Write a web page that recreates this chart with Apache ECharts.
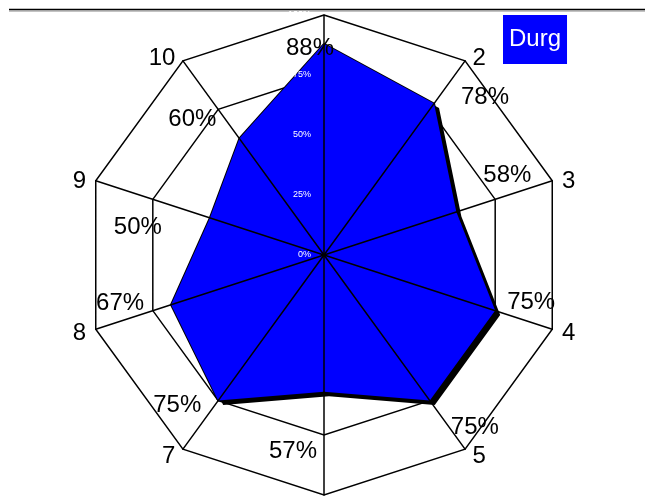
<!DOCTYPE html>
<html style="height: 100%">

<head>
    <meta charset="utf-8">
</head>

<body style="height: 100%; margin: 0">
    <div id="container" style="width: 645px; height: 497px"></div>
    <script src="https://cdn.jsdelivr.net/npm/echarts@6/dist/echarts.min.js"></script>
    <script type="text/javascript">
        var indicators = ['1', '2', '3', '4', '5', '6', '7', '8', '9', '10'];
        var durgValues = [88, 78, 58, 75, 75, 57, 75, 67, 50, 60];
        var seriesName = 'Durg';
        var axisMax = 100;

        // label nudges (px) for each vertex value label, same order as indicators
        var labelOffsets = [[-14, 2], [51, -9], [51, -40], [36, -11], [45, 24],
            [-31, 57], [-41, 2], [-51, -4], [-72, 6], [-47, -22]];

        // echarts lays radar axes out counter-clockwise, the picture goes clockwise
        var ccw = function (arr) {
            return [arr[0]].concat(arr.slice(1).reverse());
        };

        var font = 'Liberation Sans, Arial, sans-serif';
        var cx = 324, cy = 255;
        var dom = document.getElementById('container');
        var myChart = echarts.init(dom);

        var indicatorList = ccw(indicators).map(function (n, i) {
            var item = { name: n, min: 0, max: axisMax };
            if (i === 0) {
                item.axisLabel = {
                    show: true,
                    color: '#fff',
                    fontSize: 9,
                    fontFamily: font,
                    margin: 13,
                    formatter: '{value}%'
                };
            }
            return item;
        });

        var radarBase = {
            center: [cx, cy],
            radius: 240,
            shape: 'polygon',
            splitNumber: 4,
            indicator: indicatorList
        };

        // which indicator a vertex label belongs to, from its position round the centre
        var vertexIndex = function (rect) {
            var x = rect.x + rect.width / 2 - cx;
            var y = cy - (rect.y + rect.height / 2);
            var a = Math.atan2(y, x) * 180 / Math.PI;   // 90 = top
            var clockwise = (90 - a + 720) % 360;
            return Math.round(clockwise / (360 / indicators.length)) % indicators.length;
        };

        myChart.setOption({
            animation: false,
            title: {
                text: seriesName,
                left: 503,
                top: 15,
                padding: [12, 6, 13, 6],
                backgroundColor: '#0000ff',
                textStyle: { color: '#fff', fontSize: 24, fontWeight: 'normal', fontFamily: font }
            },
            graphic: [
                { type: 'line', shape: { x1: 9, y1: 9.5, x2: 645, y2: 9.5 }, style: { stroke: '#000', lineWidth: 1.5 } },
                { type: 'line', shape: { x1: 9, y1: 11, x2: 645, y2: 11 }, style: { stroke: '#888', lineWidth: 1 } }
            ],
            radar: [
                Object.assign({}, radarBase, {
                    z: 0,
                    axisName: {
                        color: '#000',
                        fontSize: 24,
                        fontFamily: font,
                        formatter: function (name) {
                            return name === '1' ? '' : '{n|' + name + '}';
                        },
                        rich: {
                            n: {
                                color: '#000',
                                fontSize: 24,
                                fontFamily: font,
                                padding: [5, 4, 0, 4]
                            }
                        }
                    },
                    nameGap: 6,
                    axisLine: { show: false },
                    axisTick: { show: false },
                    axisLabel: { show: false },
                    splitArea: { show: false },
                    splitLine: { lineStyle: { color: '#000', width: 1.5 } }
                }),
                Object.assign({}, radarBase, {
                    z: 3,
                    axisName: { show: false },
                    axisLine: { lineStyle: { color: '#000', width: 1.5 } },
                    axisTick: { show: false },
                    axisLabel: { show: false },
                    splitArea: { show: false },
                    splitLine: { show: false }
                })
            ],
            series: [{
                name: seriesName,
                type: 'radar',
                radarIndex: 0,
                symbol: 'circle',
                symbolSize: 1,
                itemStyle: { color: '#000' },
                lineStyle: { color: '#000', width: 2 },
                areaStyle: {
                    color: '#0000ff',
                    opacity: 1,
                    shadowColor: '#000',
                    shadowBlur: 0,
                    shadowOffsetX: 5,
                    shadowOffsetY: 4.5
                },
                label: {
                    show: true,
                    position: 'inside',
                    align: 'center',
                    verticalAlign: 'middle',
                    color: '#000',
                    fontSize: 24,
                    fontFamily: font,
                    formatter: function (p) {
                        return p.value + '%';
                    }
                },
                labelLayout: function (params) {
                    var off = labelOffsets[vertexIndex(params.rect)];
                    return { dx: off[0], dy: off[1] + 3 };
                },
                data: [{
                    value: ccw(durgValues),
                    name: seriesName
                }]
            }]
        });
    </script>
</body>

</html>
